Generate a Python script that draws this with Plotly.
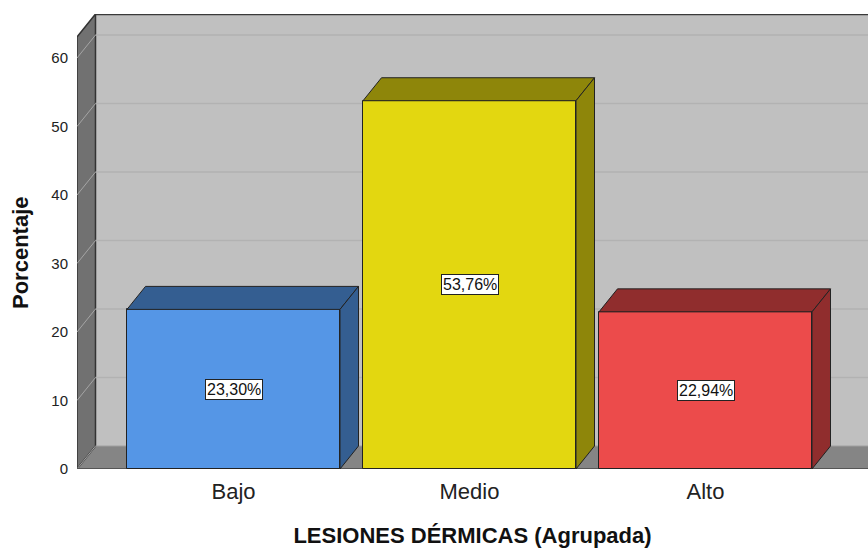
import plotly.graph_objects as go

# ---- data ----
categories = ["Bajo", "Medio", "Alto"]
percentages = [23.30, 53.76, 22.94]
y_ticks = [0, 10, 20, 30, 40, 50, 60]

front_colors = ["#5596E6", "#E3D710", "#EC4B4B"]
side_colors = ["#345E91", "#8E860A", "#902D2D"]

# ---- geometry (style) ----
FONT = "Arial, Liberation Sans, sans-serif"
W, H = 868, 548
ml, mr, mt, mb = 77, 0, 14, 79
px_per_cat = 236.0
px_per_unit = 6.85
xa = -(233.5 - ml) / px_per_cat
xb = xa + (W - ml - mr) / px_per_cat
ytop_total = (H - mt - mb) / px_per_unit
dx = 18.5 / px_per_cat
dy = 23.0 / px_per_unit
wall_top = ytop_total - dy
bw = 213.0 / px_per_cat

fig = go.Figure()

shapes = []
# back wall
shapes.append(dict(type="rect", xref="x", yref="y", x0=xa + dx, x1=xb, y0=dy, y1=ytop_total,
                   fillcolor="#C0C0C0", line=dict(width=0), layer="below"))
# floor
shapes.append(dict(type="path", xref="x", yref="y",
                   path=f"M {xa},0 L {xa+dx},{dy} L {xb},{dy} L {xb},0 Z",
                   fillcolor="#858585", line=dict(width=0), layer="below"))
# left wall
shapes.append(dict(type="path", xref="x", yref="y",
                   path=f"M {xa},0 L {xa+dx},{dy} L {xa+dx},{ytop_total} L {xa},{wall_top} Z",
                   fillcolor="#717171", line=dict(color="#333333", width=1.5), layer="below"))
# grid lines on back wall and left wall
for v in y_ticks:
    if v > 0:
        shapes.append(dict(type="line", xref="x", yref="y", x0=xa + dx, x1=xb, y0=v + dy, y1=v + dy,
                           line=dict(color="#B2B2B2", width=1.5), layer="below"))
    shapes.append(dict(type="line", xref="x", yref="y", x0=xa, x1=xa + dx, y0=v, y1=v + dy,
                       line=dict(color="#A5A5A5", width=1), layer="below"))
# floor/back wall edge
shapes.append(dict(type="line", xref="x", yref="y", x0=xa + dx, x1=xb, y0=dy, y1=dy,
                   line=dict(color="#A0A0A0", width=1), layer="below"))
# top edge of back wall
shapes.append(dict(type="line", xref="x", yref="y", x0=xa + dx, x1=xb, y0=ytop_total, y1=ytop_total,
                   line=dict(color="#3A3A3A", width=2.5), layer="below"))
# front floor edge
shapes.append(dict(type="line", xref="x", yref="y", x0=xa, x1=xb, y0=0, y1=0,
                   line=dict(color="#555555", width=2), layer="below"))

# bar front faces
fig.add_trace(go.Bar(x=list(range(len(categories))), y=percentages, width=bw,
                     marker=dict(color=front_colors, line=dict(color="#222222", width=1)),
                     hoverinfo="skip", showlegend=False))

# bar top and side faces
for i, v in enumerate(percentages):
    l = i - bw / 2
    r = i + bw / 2
    fig.add_trace(go.Scatter(x=[l, l + dx, r + dx, r, l], y=[v, v + dy, v + dy, v, v],
                             fill="toself", fillcolor=side_colors[i], mode="lines",
                             line=dict(color="#222222", width=1), hoverinfo="skip", showlegend=False))
    fig.add_trace(go.Scatter(x=[r, r, r + dx, r + dx, r], y=[0, v, v + dy, dy, 0],
                             fill="toself", fillcolor=side_colors[i], mode="lines",
                             line=dict(color="#222222", width=1), hoverinfo="skip", showlegend=False))

annotations = []
for i, v in enumerate(percentages):
    annotations.append(dict(x=i, y=v / 2, xref="x", yref="y", showarrow=False,
                            text=f"{v:.2f}".replace(".", ",") + "%",
                            font=dict(family=FONT, size=16, color="#111111"),
                            bgcolor="white", bordercolor="#222222", borderwidth=1, borderpad=1))
# y-axis title, centred on the front wall
annotations.append(dict(x=0, y=wall_top / 2, xref="paper", yref="y", xshift=-57,
                        xanchor="center", yanchor="middle", showarrow=False, textangle=-90,
                        text="<b>Porcentaje</b>", font=dict(family=FONT, size=22, color="#111111")))

fig.update_layout(
    width=W, height=H,
    margin=dict(l=ml, r=mr, t=mt, b=mb, pad=0, autoexpand=False),
    paper_bgcolor="white", plot_bgcolor="white",
    font=dict(family=FONT),
    shapes=shapes, annotations=annotations,
    bargap=0,
    xaxis=dict(range=[xa, xb], tickvals=list(range(len(categories))), ticktext=categories,
               showgrid=False, zeroline=False, showline=False, automargin=False,
               ticks="outside", ticklen=3, tickcolor="rgba(0,0,0,0)",
               tickfont=dict(family=FONT, size=22, color="#222222"),
               title=dict(text="<b>LESIONES DÉRMICAS (Agrupada)</b>", standoff=24,
                          font=dict(family=FONT, size=22, color="#111111"))),
    yaxis=dict(range=[0, ytop_total], tickvals=y_ticks,
               showgrid=False, zeroline=False, showline=False, automargin=False,
               ticks="outside", ticklen=5, tickcolor="rgba(0,0,0,0)",
               tickfont=dict(family=FONT, size=15, color="#222222")),
)

fig.write_html("out.html", config={"displayModeBar": False},
               post_script=["document.body.style.margin='0px';"])
